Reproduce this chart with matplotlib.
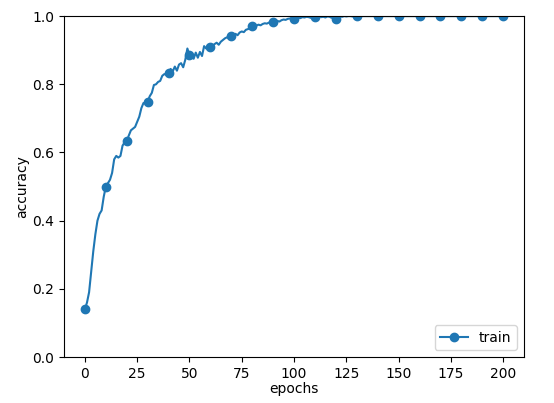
import numpy as np
import matplotlib
matplotlib.use('Agg')
import matplotlib.pyplot as plt

# train accuracy per epoch (0..200)
train_acc = [
    0.14, 0.16, 0.19, 0.25, 0.31, 0.36, 0.40, 0.42, 0.43, 0.47,
    0.50, 0.51, 0.52, 0.54, 0.58, 0.59, 0.585, 0.59, 0.62, 0.63,
    0.633, 0.65, 0.665, 0.67, 0.675, 0.69, 0.705, 0.73, 0.745, 0.745,
    0.749, 0.765, 0.775, 0.798, 0.80, 0.807, 0.81, 0.825, 0.83, 0.828,
    0.832, 0.845, 0.838, 0.852, 0.840, 0.858, 0.862, 0.850, 0.872, 0.905,
    0.886, 0.88, 0.875, 0.893, 0.878, 0.895, 0.883, 0.912, 0.905, 0.915,
    0.908, 0.912, 0.918, 0.922, 0.916, 0.925, 0.930, 0.935, 0.938, 0.936,
    0.942, 0.945, 0.948, 0.944, 0.952, 0.955, 0.953, 0.960, 0.962, 0.965,
    0.971, 0.968, 0.972, 0.975, 0.973, 0.977, 0.979, 0.978, 0.981, 0.982,
    0.983, 0.985, 0.986, 0.984, 0.988, 0.990, 0.989, 0.992, 0.993, 0.991,
    0.993, 0.995, 0.996, 0.994, 0.997, 0.996, 0.998, 0.997, 0.995, 0.998,
    0.997, 0.998, 0.999, 0.997, 0.998, 0.996, 0.999, 0.998, 0.995, 0.997,
    0.993, 0.997, 0.999, 0.998, 1.0, 0.999, 1.0, 1.0, 0.999, 1.0,
    1.0, 1.0, 1.0, 1.0, 1.0, 1.0, 1.0, 1.0, 1.0, 1.0,
    1.0, 1.0, 1.0, 1.0, 1.0, 1.0, 1.0, 1.0, 1.0, 1.0,
    1.0, 1.0, 1.0, 1.0, 1.0, 1.0, 1.0, 1.0, 1.0, 1.0,
    1.0, 1.0, 1.0, 1.0, 1.0, 1.0, 1.0, 1.0, 1.0, 1.0,
    1.0, 1.0, 1.0, 1.0, 1.0, 1.0, 1.0, 1.0, 1.0, 1.0,
    1.0, 1.0, 1.0, 1.0, 1.0, 1.0, 1.0, 1.0, 1.0, 1.0,
    1.0, 1.0, 1.0, 1.0, 1.0, 1.0, 1.0, 1.0, 1.0, 1.0,
    1.0,
]
epochs = np.arange(len(train_acc))

fig = plt.figure(figsize=(5.54, 4.03), dpi=100)
ax = fig.add_axes([0.1155, 0.114, 0.8305, 0.846])

ax.plot(epochs, train_acc, marker='o', markevery=10, label='train')
ax.set_xlabel('epochs', labelpad=1)
ax.set_ylabel('accuracy', labelpad=2)
ax.set_ylim(0, 1.0)
ax.legend(loc='lower right')

fig.savefig('out.png', dpi=100)
